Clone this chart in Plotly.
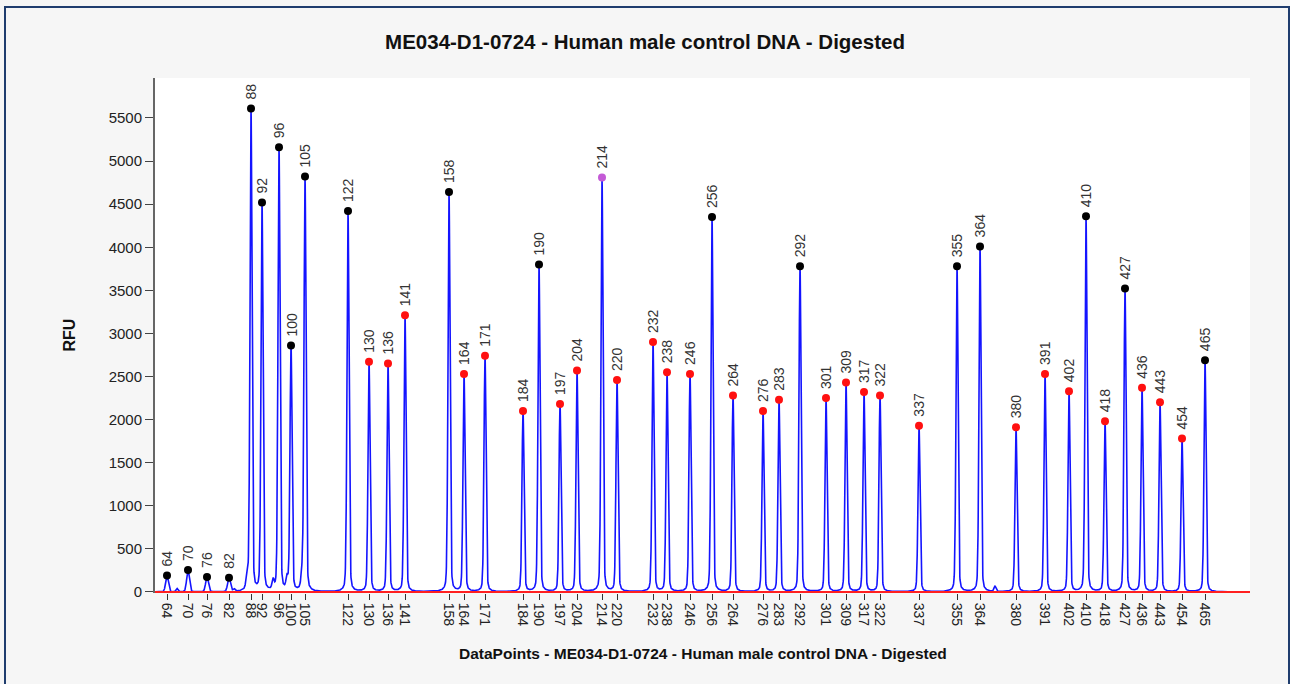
import numpy as np
import plotly.graph_objects as go

# ---- data ----
sizes = [64, 70, 76, 82, 88, 92, 96, 100, 105, 122, 130, 136, 141, 158, 164, 171,
         184, 190, 197, 204, 214, 220, 232, 238, 246, 256, 264, 276, 283, 292, 301,
         309, 317, 322, 337, 355, 364, 380, 391, 402, 410, 418, 427, 436, 443, 454, 465]
datapoints = [60, 165, 260, 370, 480, 535, 620, 680, 750, 965, 1070, 1165, 1250, 1470,
              1545, 1650, 1840, 1920, 2025, 2110, 2235, 2310, 2490, 2560, 2675, 2785,
              2890, 3040, 3120, 3225, 3355, 3455, 3545, 3625, 3820, 4010, 4125, 4305,
              4450, 4570, 4655, 4750, 4850, 4935, 5025, 5135, 5250]
heights = [190, 255, 175, 165, 5610, 4520, 5160, 2860, 4820, 4420, 2670, 2650, 3210,
           4640, 2530, 2740, 2100, 3800, 2180, 2570, 4810, 2460, 2900, 2550, 2530, 4350,
           2280, 2100, 2230, 3780, 2250, 2430, 2320, 2280, 1930, 3780, 4010, 1910, 2530,
           2330, 4360, 1980, 3520, 2370, 2200, 1780, 2690]
peak_class = ['k', 'k', 'k', 'k', 'k', 'k', 'k', 'k', 'k', 'k', 'r', 'r', 'r', 'k', 'r', 'r',
              'r', 'k', 'r', 'r', 'v', 'r', 'r', 'r', 'r', 'k', 'r', 'r', 'r', 'k', 'r',
              'r', 'r', 'r', 'r', 'k', 'k', 'r', 'r', 'r', 'k', 'r', 'k', 'r', 'r', 'r', 'k']
# small shoulders / artefacts
minor_dp = [110, 395, 460, 590, 660, 735, 4200]
minor_h = [40, 30, 150, 110, 140, 160, 60]
red_dp = [0, 5475]
red_level = [0, 0]
x_range = [0, 5475]
y_ticks = [0, 500, 1000, 1500, 2000, 2500, 3000, 3500, 4000, 4500, 5000, 5500]

title = "ME034-D1-0724 - Human male control DNA - Digested"
x_title = "DataPoints - ME034-D1-0724 - Human male control DNA - Digested"
y_title = "RFU"

FONT = 'Liberation Sans, Arial, sans-serif'

# ---- build blue trace from peak list ----
x = np.arange(x_range[0], x_range[1] + 1, 1.0)
sig = np.zeros_like(x)


def peak(x0, h, s=5.0, g=6.0, frac=0.2):
    return h * ((1 - frac) * np.exp(-0.5 * ((x - x0) / s) ** 2) + frac / (1 + ((x - x0) / g) ** 2))


for p, h in zip(datapoints, heights):
    w = 7.0 if h < 400 else 5.0
    sig += peak(p, h, s=w)
for p, h in zip(minor_dp, minor_h):
    sig += peak(p, h, s=5, g=5, frac=0.3)

color_map = {'k': '#000000', 'r': '#ff1010', 'v': '#c45ad6'}
mcolors = [color_map[c] for c in peak_class]

fig = go.Figure()
fig.add_trace(go.Scatter(x=x, y=sig, mode='lines', line=dict(color='#1414ff', width=1.6),
                         hoverinfo='skip', showlegend=False))
fig.add_trace(go.Scatter(x=red_dp, y=red_level, mode='lines', line=dict(color='#ff2020', width=2),
                         hoverinfo='skip', showlegend=False))
fig.add_trace(go.Scatter(x=datapoints, y=heights, mode='markers',
                         marker=dict(color=mcolors, size=8), showlegend=False))

for p, h, s in zip(datapoints, heights, sizes):
    fig.add_annotation(x=p, y=h, text=str(s), textangle=-90, showarrow=False,
                       xanchor='center', yanchor='bottom', yshift=7,
                       font=dict(family=FONT, size=14, color='#333333'))

# axis titles as annotations
fig.add_annotation(xref='paper', yref='paper', x=0.5, y=(593 - 653) / 515, text='<b>' + x_title + '</b>',
                   showarrow=False, xanchor='center', yanchor='middle',
                   font=dict(family=FONT, size=15.5, color='#111111'))
fig.add_annotation(xref='paper', yref='paper', x=(69 - 155) / 1095, y=0.5, text='<b>' + y_title + '</b>',
                   textangle=-90, showarrow=False, xanchor='center', yanchor='middle',
                   font=dict(family=FONT, size=16, color='#111111'))

# outer frame
fig.add_shape(type='rect', xref='paper', yref='paper',
              x0=(5 - 155) / 1095, x1=(1289 - 155) / 1095,
              y0=(593 - 700) / 515, y1=(593 - 7) / 515,
              line=dict(color='#1f3d6e', width=2), layer='below')

fig.update_layout(
    width=1290, height=684,
    margin=dict(l=155, r=40, t=78, b=91),
    paper_bgcolor='#f6f6f6', plot_bgcolor='#ffffff',
    title=dict(text='<b>' + title + '</b>', x=0.5, xanchor='center', y=1 - 42 / 684, yanchor='middle',
               font=dict(family=FONT, size=20.5, color='#111111')),
    showlegend=False,
)
fig.update_xaxes(range=x_range, tickmode='array', tickvals=datapoints, ticktext=[str(s) for s in sizes],
                 tickangle=90, ticks='outside', ticklen=6, tickcolor='#333333', tickwidth=1,
                 showgrid=False, zeroline=False, showline=False,
                 tickfont=dict(family=FONT, size=14, color='#222222'))
fig.update_yaxes(range=[-12, 5964], tickmode='array', tickvals=y_ticks,
                 ticks='outside', ticklen=8, tickcolor='#444444', tickwidth=1,
                 showgrid=False, zeroline=False, showline=True, linecolor='#666666', linewidth=2,
                 tickfont=dict(family=FONT, size=15, color='#222222'))

fig.write_html("out.html", config={'displayModeBar': False},
               post_script="document.body.style.margin='0px';")
